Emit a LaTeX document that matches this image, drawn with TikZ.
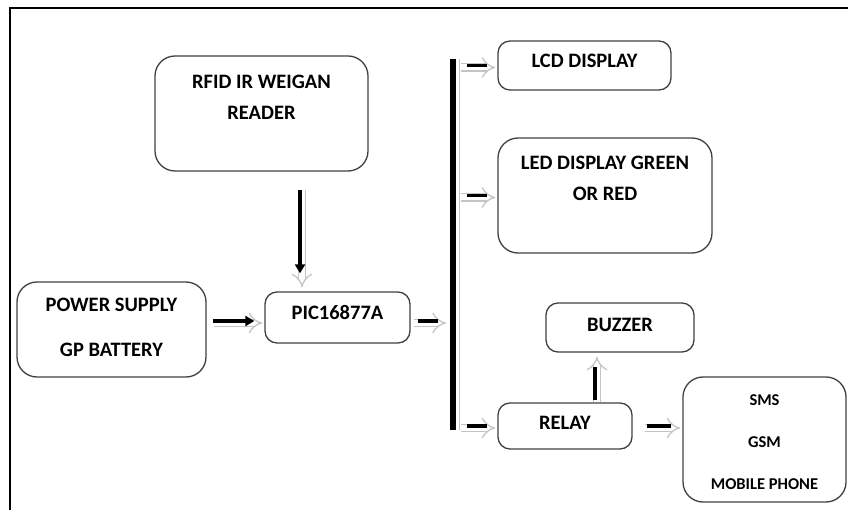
\documentclass[tikz,border=0pt]{standalone}
\usepackage{fontspec}
\setmainfont{Carlito}
\usetikzlibrary{positioning,arrows.meta}
\definecolor{boxgray}{HTML}{404040}
\definecolor{shadegray}{HTML}{C4C4C4}
% box text: width, height, first line height, lines
\newcommand{\boxlines}[4]{\parbox[c][#2][t]{#1}{\centering\rule{0pt}{#3}#4}}

\begin{document}
\begin{tikzpicture}[x=1pt, y=-1pt,
		boxnode/.style={draw=boxgray, line width=1.3pt, rounded corners=12pt, inner sep=0pt, font=\bfseries\fontsize{20.5}{31}\selectfont},
		bigbox/.style={boxnode, rounded corners=20pt},
		shadearrow/.style={draw=shadegray, line width=1.3pt, double=white, double distance=6pt, -{Implies[scale=1.4]}},
		hshade/.style={shadearrow, transform canvas={shift={(1pt,-2pt)}}},
		vshade/.style={shadearrow, transform canvas={shift={(2pt,0pt)}}},
		blackbar/.style={draw=black, line width=3.5pt},
		blackhead/.style={blackbar, -{Triangle[length=9pt,width=10pt]}}]
		\useasboundingbox (0,0) rectangle (848,510);
		% frame
		\draw[line width=1.5pt] (10,510) -- (10,8) -- (848,8);
		
		\node[bigbox] (rfid) at (261.5,113.5) {\boxlines{213pt}{115pt}{32.5pt}{RFID IR WEIGAN\\READER}};
		\node[bigbox] (power) at (111.5,329.5) {\boxlines{189pt}{95pt}{29.5pt}{POWER SUPPLY\\[14pt]GP BATTERY}};
		\node[boxnode] (pic) at (337.5,317.5) {\boxlines{145pt}{51pt}{27.5pt}{PIC16877A}};
		\node[boxnode] (lcd) at (584.5,65.5) {\boxlines{173pt}{49pt}{26.5pt}{LCD DISPLAY}};
		\node[bigbox] (led) at (605,195.5) {\boxlines{214pt}{115pt}{31.5pt}{LED DISPLAY GREEN\\OR RED}};
		\node[boxnode] (buzzer) at (620,327.5) {\boxlines{148pt}{49pt}{28.5pt}{BUZZER}};
		\node[boxnode] (relay) at (565,426) {\boxlines{134pt}{46pt}{26.5pt}{RELAY}};
		\node[bigbox, font=\bfseries\fontsize{16.5}{42}\selectfont] (sms) at (764.5,439.5) {\boxlines{163pt}{125pt}{28.5pt}{SMS\\GSM\\MOBILE PHONE}};
		
		\coordinate (busTop) at (453,59);
		\coordinate (busBot) at (453,430);
		\coordinate (rfidOut) at (300,171);
		\coordinate (pwrOut) at (206,321);
		\coordinate (picOut) at (410,321);
		\coordinate (relayUp) at (595,403);
		
		% bus bar
		\draw[draw=shadegray, line width=1.3pt, double=white, double distance=8pt] ([xshift=2pt]busTop) -- ([xshift=2pt]busBot);
		\draw[line width=6pt] (busTop) -- (busBot);
		
		% arrows
		\path (rfidOut)
		edge[vshade, shorten <=19pt, shorten >=4pt] (rfidOut |- pic.north)
		edge[blackhead, shorten <=19pt, shorten >=18pt] (rfidOut |- pic.north);
		\path (pwrOut)
		edge[hshade, shorten <=7pt, shorten >=3pt] (pwrOut -| pic.west)
		edge[blackhead, shorten <=7pt, shorten >=10pt] (pwrOut -| pic.west);
		\path (picOut)
		edge[hshade, shorten <=3pt, shorten >=8pt] (picOut -| busTop)
		edge[blackbar, shorten <=8pt, shorten >=15pt] (picOut -| busTop);
		\path (busTop |- lcd.west)
		edge[hshade, shorten <=7pt, shorten >=3pt] (lcd.west)
		edge[blackbar, shorten <=14pt, shorten >=10pt] (lcd.west);
		\path (busTop |- led.west)
		edge[hshade, shorten <=7pt, shorten >=3pt] (led.west)
		edge[blackbar, shorten <=14pt, shorten >=10pt] (led.west);
		\path (busTop |- relay.west)
		edge[hshade, shorten <=7pt, shorten >=3pt] (relay.west)
		edge[blackbar, shorten <=14pt, shorten >=10pt] (relay.west);
		\path (relayUp)
		edge[vshade, shorten <=1pt, shorten >=4pt] (relayUp |- buzzer.south)
		edge[blackbar, shorten <=3pt, shorten >=14pt] (relayUp |- buzzer.south);
		\path (relay.east)
		edge[hshade, shorten <=11pt, shorten >=3pt] (relay.east -| sms.west)
		edge[blackbar, shorten <=14pt, shorten >=11pt] (relay.east -| sms.west);
	\end{tikzpicture}
\end{document}
